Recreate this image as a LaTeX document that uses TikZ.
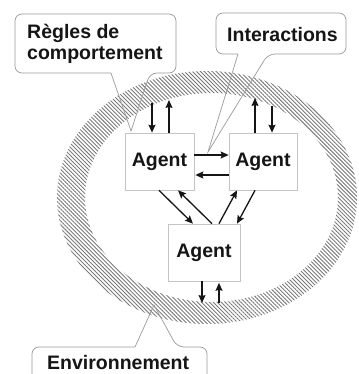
\documentclass[tikz,border=0pt]{standalone}
\usepackage{fontspec}
\setmainfont{Liberation Sans}
\usetikzlibrary{arrows.meta,patterns.meta}
\definecolor{ink}{HTML}{151515}
\definecolor{hatch}{HTML}{7A7A7A}
\definecolor{frame}{HTML}{9A9A9A}
\definecolor{boxline}{HTML}{C4C4C4}
\tikzset{
  lbl/.style={font=\fontsize{19.5}{20.5}\selectfont\bfseries, text=ink, inner sep=0pt},
  agent/.style={lbl, draw=boxline, line width=0.7pt, fill=white, anchor=center},
  callout/.style={draw=frame, line width=0.7pt},
  arr/.style={draw=ink, line width=1.3pt, -{Stealth[length=8pt,width=7pt,inset=1.2pt]}},
  ring/.style={even odd rule, pattern={Lines[angle=-45,distance=2.8pt,line width=0.9pt]}, pattern color=hatch}
}
\begin{document}
\begin{tikzpicture}[x=1pt,y=-1pt]
  \useasboundingbox (0,0) rectangle (358,374);
  \clip (0,0) rectangle (358,374);
  \fill[white] (0,0) rectangle (358,374);

  % environment ring
  \fill[ring] (207,197.5) ellipse [x radius=150pt, y radius=126.5pt]
              (211.5,197.5) ellipse [x radius=126.5pt, y radius=104.5pt];

  % agents
  \node[agent, minimum width=69pt, minimum height=57pt] (a1) at (159.5,161.5) {Agent};
  \node[agent, minimum width=68pt, minimum height=57pt] (a2) at (263,161.5) {Agent};
  \node[agent, minimum width=72pt, minimum height=57pt] (a3) at (204,252.5) {Agent};

  % ends of the exchanges with the environment
  \coordinate (e1in)  at (152,103);
  \coordinate (e1out) at (169,100);
  \coordinate (e2out) at (255,98);
  \coordinate (e2in)  at (272,106);
  \coordinate (e3out) at (202,303);
  \coordinate (e3in)  at (219,303);

  % agent <-> environment
  \draw[arr] (e1in) -- ([xshift=-7.5pt]a1.north);
  \draw[arr] ([xshift=9.5pt]a1.north) -- (e1out);
  \draw[arr] ([xshift=-8pt]a2.north) -- (e2out);
  \draw[arr] (e2in) -- ([xshift=9pt]a2.north);
  \draw[arr] ([xshift=-2pt]a3.south) -- (e3out);
  \draw[arr] (e3in) -- ([xshift=15pt,yshift=-1.5pt]a3.south);

  % agent <-> agent
  \draw[arr] ([yshift=6.5pt]a1.east) -- ([yshift=6.5pt]a2.west);
  \draw[arr] ([yshift=-13.5pt]a2.west) -- ([yshift=-13.5pt,xshift=1pt]a1.east);
  \draw[arr] ([xshift=-0.5pt]a1.south) -- ([xshift=-11pt]a3.north);
  \draw[arr] ([xshift=8pt]a3.north) -- ([xshift=18.5pt]a1.south);
  \draw[arr] ([xshift=15pt]a3.north) -- ([xshift=-26pt]a2.south);
  \draw[arr] ([xshift=-8pt]a2.south) -- ([xshift=33pt]a3.north);

  % callouts
  \node[lbl, anchor=base west, align=left] (rules) at (27,59.5) {Règles de\\comportement};
  \draw[callout] (111,73) [rounded corners=7pt] -- (15,73) -- (15,14) -- (176,14) -- (176,73)
        -- (150,73) [sharp corners] -- (131,131) -- (111,73);

  \node[lbl, anchor=base west] (inter) at (227,42) {Interactions};
  \draw[callout] (238,54) [rounded corners=7pt] -- (216,54) -- (216,13) -- (346,13) -- (346,54)
        -- (268,54) [sharp corners] -- (208,152) -- (238,54);

  \node[lbl, anchor=base west] (env) at (47,369) {Environnement};
  \draw[callout] (135,347) [rounded corners=7pt] -- (32,347) -- (32,395) -- (207,395) -- (207,347)
        -- (177,347) [sharp corners] -- (154,305) -- (135,347);
\end{tikzpicture}
\end{document}
